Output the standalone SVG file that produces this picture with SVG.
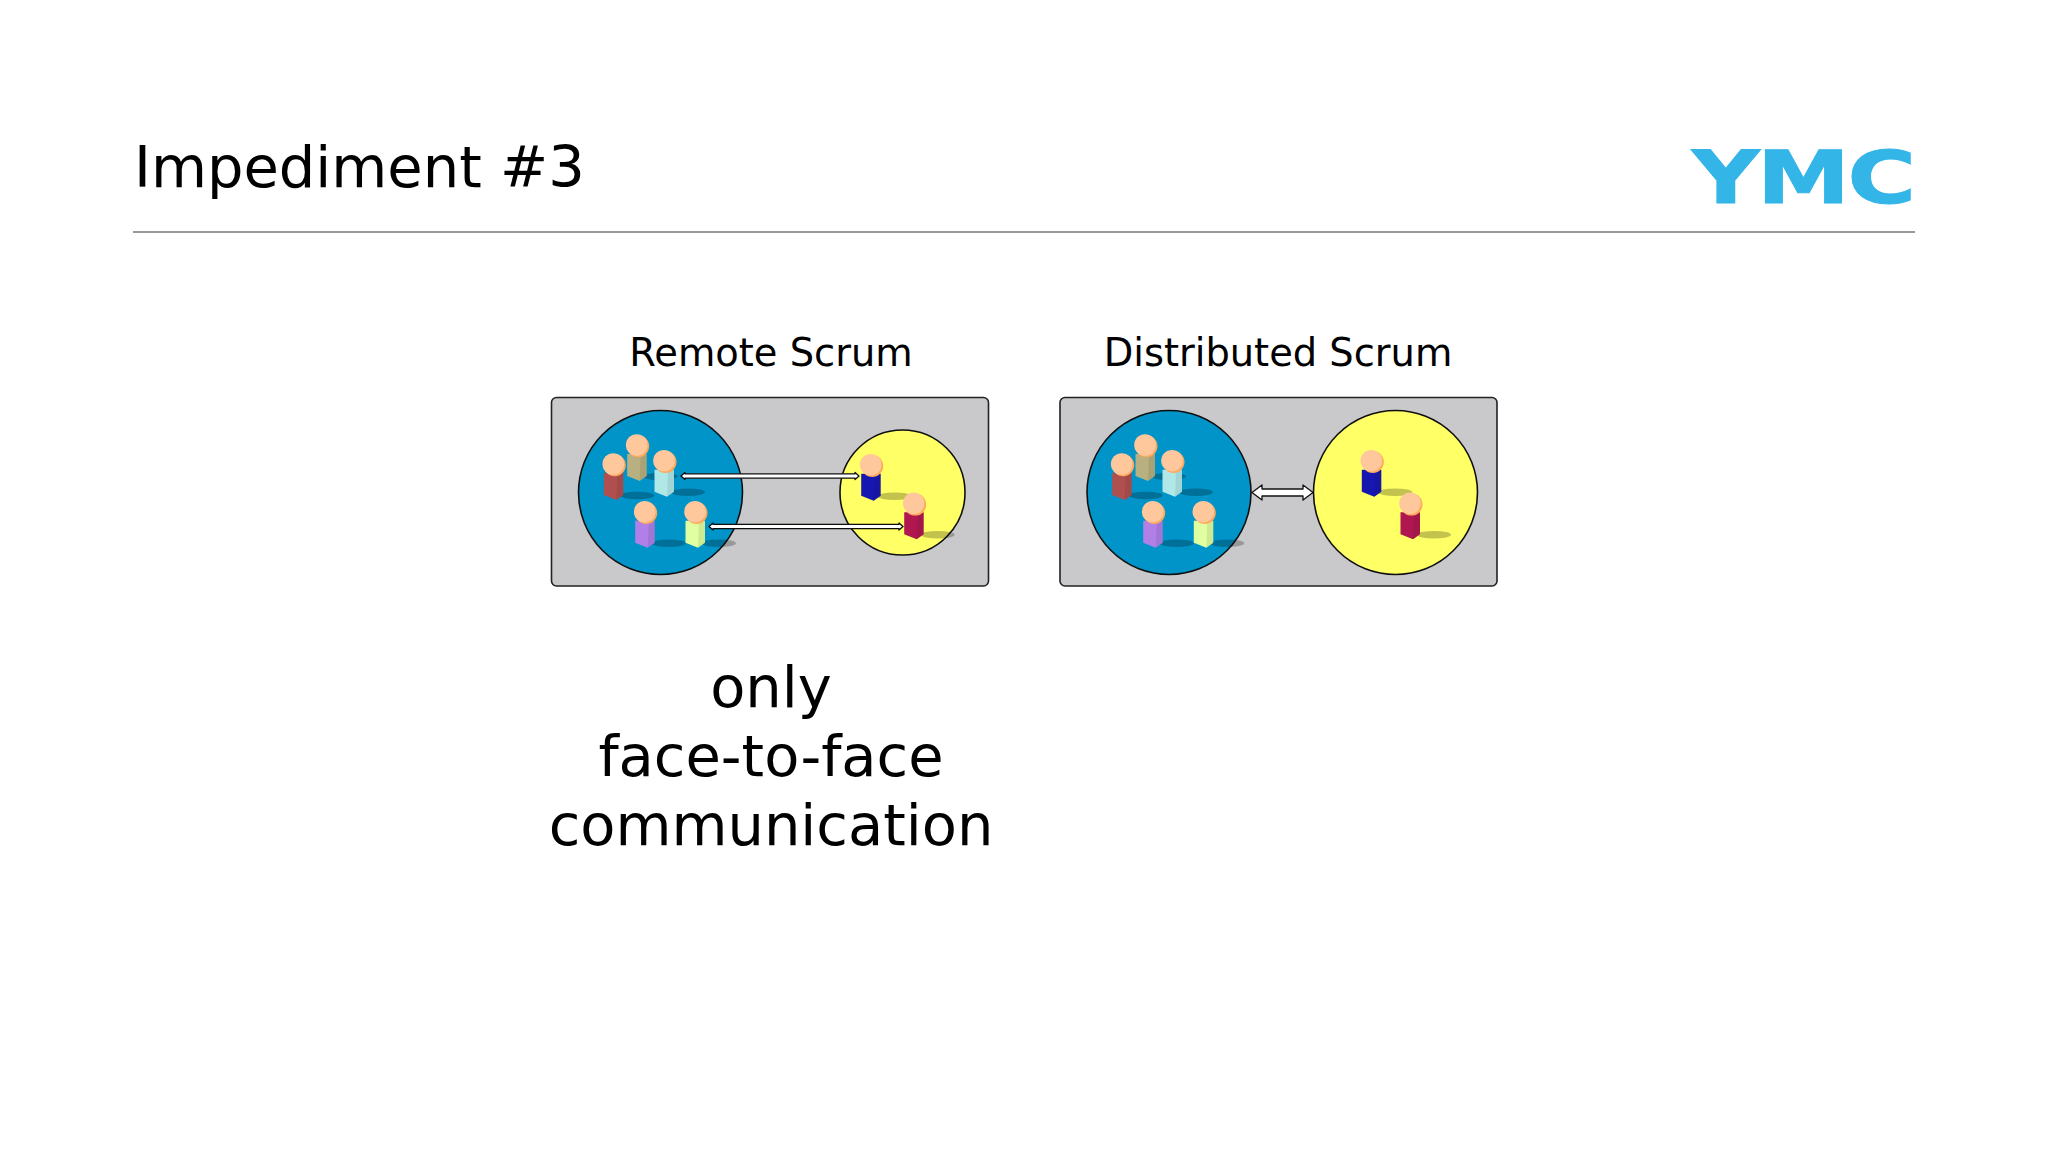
<svg xmlns="http://www.w3.org/2000/svg" xmlns:xlink="http://www.w3.org/1999/xlink" width="2048" height="1152" viewBox="0 0 2048 1152">
<style>
text{font-family:"DejaVu Sans",sans-serif;fill:#000}
.lab{font-size:38.4px;text-anchor:middle}
.big{font-size:57.5px;text-anchor:middle}
.panel{fill:#c9c9cb;stroke:#222;stroke-width:1.6}
.blue{fill:#0094c8;stroke:#111;stroke-width:1.6}
.yel{fill:#ffff66;stroke:#111;stroke-width:1.6}
.thin{fill:#fff;stroke:#111;stroke-width:1.3;stroke-linejoin:round}
.soft{filter:url(#b)}
</style>
<defs>
<filter id="b" x="-5%" y="-5%" width="110%" height="110%"><feGaussianBlur stdDeviation="0.7"/></filter>
<g id="pb"><ellipse cx="24" cy="31.500" rx="17" ry="3.800" fill="#000" opacity=".24"/>
<path d="M-9.500 9 L10 9 L10 31 L3 36 L-9.500 31 Z" fill="currentColor"/>
<path d="M4 9 L10 9 L10 31 L3 36 Z" fill="#000" opacity=".08"/>
<circle cx="1.500" cy="1.300" r="11" fill="#ffa95c"/><circle cx="0" cy="0" r="10.800" fill="#ffc79c"/></g>
</defs>
<rect width="2048" height="1152" fill="#fff"/>
<text id="title" x="134" y="187" style="font-size:57.5px">Impediment #3</text>
<text id="logo" transform="translate(1692 203) scale(1.28 1)" style="font-weight:700;font-size:73px;letter-spacing:-2px;fill:#33b5e8;stroke:#33b5e8;stroke-width:1">YMC</text>
<line x1="133" y1="232" x2="1915" y2="232" stroke="#999" stroke-width="1.8"/>
<text class="lab" x="771" y="366">Remote Scrum</text>
<text class="lab" x="1278" y="366">Distributed Scrum</text>
<text class="big" x="771" y="707">only</text>
<text class="big" x="771" y="776">face-to-face</text>
<text class="big" x="771" y="845">communication</text>
<g id="remote-scrum" class="soft">
<rect class="panel" x="551.500" y="397.500" width="437" height="188.500" rx="5"/>
<circle class="blue" cx="660.500" cy="492.500" r="82"/>
<circle class="yel" cx="902.500" cy="492.500" r="62.500"/>
<use xlink:href="#pb" href="#pb" x="613.300" y="464" color="#b05050"/>
<use xlink:href="#pb" href="#pb" x="636.700" y="445" color="#b8b080"/>
<use xlink:href="#pb" href="#pb" x="664" y="460.700" color="#b0e8e8"/>
<use xlink:href="#pb" href="#pb" x="644.700" y="511.700" color="#b080e8"/>
<use xlink:href="#pb" href="#pb" x="695" y="511.700" color="#e0ffa0"/>
<use xlink:href="#pb" href="#pb" x="870.700" y="464.700" color="#1818b0"/>
<use xlink:href="#pb" href="#pb" x="913.700" y="503.300" color="#b01850"/>
</g>
<g id="distributed-scrum" class="soft">
<rect class="panel" x="1060" y="397.500" width="437" height="188.500" rx="5"/>
<circle class="blue" cx="1169" cy="492.500" r="82"/>
<circle class="yel" cx="1395.500" cy="492.500" r="82"/>
<use xlink:href="#pb" href="#pb" x="1121.700" y="464" color="#b05050"/>
<use xlink:href="#pb" href="#pb" x="1145" y="445" color="#b8b080"/>
<use xlink:href="#pb" href="#pb" x="1172" y="460.700" color="#b0e8e8"/>
<use xlink:href="#pb" href="#pb" x="1152.700" y="511.700" color="#b080e8"/>
<use xlink:href="#pb" href="#pb" x="1203.300" y="511.700" color="#e0ffa0"/>
<use xlink:href="#pb" href="#pb" x="1371.300" y="460.700" color="#1818b0"/>
<use xlink:href="#pb" href="#pb" x="1410" y="503.300" color="#b01850"/>
</g>
<g id="connectors" class="soft">
<path class="thin" d="M681 476 L685 472.500 L685 473.800 L855 473.800 L855 472.500 L859 476 L855 479.500 L855 478.200 L685 478.200 L685 479.500 Z"/>
<path class="thin" d="M709 526.500 L713 523 L713 524.300 L899 524.300 L899 523 L903 526.500 L899 530 L899 528.700 L713 528.700 L713 530 Z"/>
<path class="thin" d="M1252 492.500 L1262 485 L1262 489 L1303 489 L1303 485 L1313 492.500 L1303 500 L1303 496 L1262 496 L1262 500 Z"/>
</g>
</svg>
